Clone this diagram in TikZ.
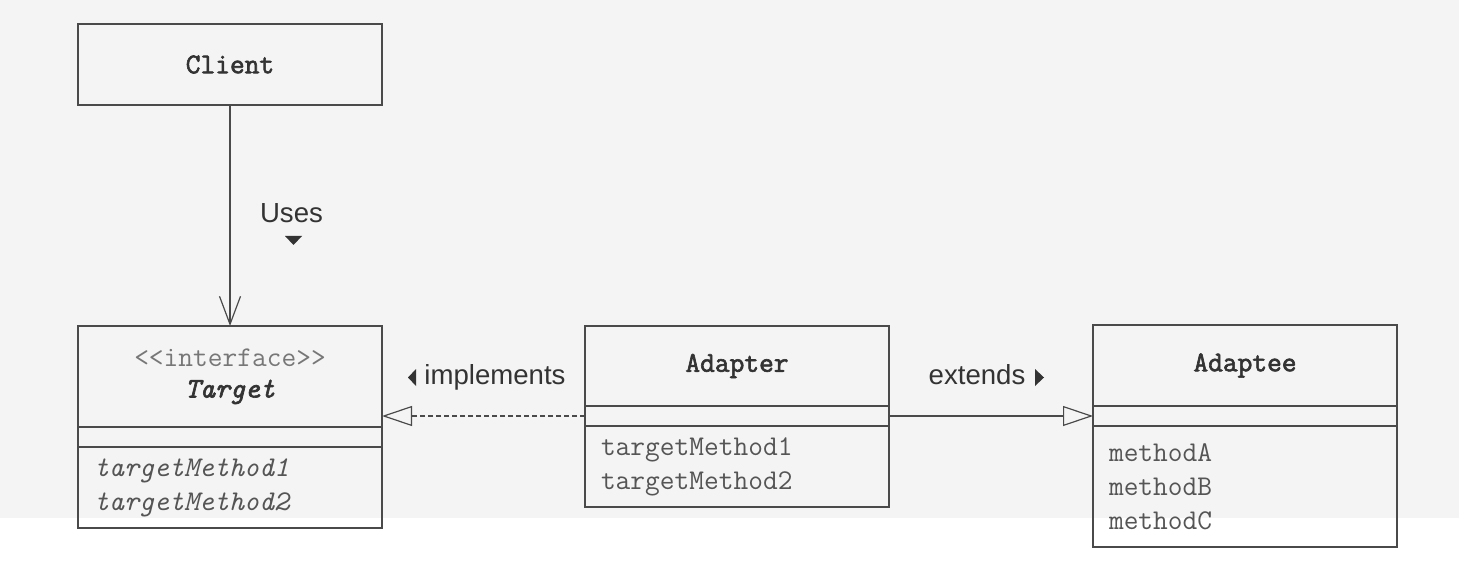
\documentclass[tikz,border=0pt]{standalone}
\usepackage{fontspec}
\setmainfont{Liberation Sans}
\newfontfamily\namefont[FakeBold=2.2]{Latin Modern Mono}
\usetikzlibrary{positioning,arrows.meta}
\definecolor{bggray}{HTML}{F4F4F4}
\definecolor{linegray}{HTML}{4A4A4A}
\definecolor{textgray}{HTML}{555555}
\definecolor{namegray}{HTML}{333333}
\definecolor{stereogray}{HTML}{777777}

\begin{document}
\begin{tikzpicture}[
  x=0.5pt, y=-0.5pt,
  block_head/.style={rectangle, draw=linegray, line width=0.6pt, outer sep=0pt, inner sep=0pt,
    minimum width=152pt, text=namegray, align=center,
    font=\namefont\fontsize{14.3}{15.5}\selectfont},
  block_attr/.style={rectangle, draw=linegray, line width=0.6pt, outer sep=0pt, inner sep=0pt,
    minimum width=152pt, minimum height=10pt},
  block_ops/.style={rectangle, draw=linegray, line width=0.6pt, outer sep=0pt,
    inner xsep=8pt, inner ysep=0pt, minimum width=152pt, text width=136pt,
    text=textgray, align=left, font=\ttfamily\fontsize{14.3}{17}\selectfont},
  label_rel/.style={text=namegray, inner sep=0pt, text height=0.75em, text depth=0.25em,
    font=\fontsize{13.8}{16}\selectfont},
  tri/.style={fill=namegray},
  uses/.style={draw=linegray, line width=0.6pt, -{Straight Barb[length=14pt, width=10.5pt]}},
  realize/.style={draw=linegray, line width=0.6pt, dash pattern=on 2.5pt off 1.5pt,
    -{Triangle[open, length=15pt, width=10pt]}},
  inherit/.style={draw=linegray, line width=0.6pt, -{Triangle[open, length=15pt, width=10pt]}}
  ]

\useasboundingbox (0,0) rectangle (1459,566);
\fill [bggray] (0,0) rectangle (1459,518);

% client
\node [block_head, minimum height=40.5pt, anchor=north west] (client) at (78,24) {Client};

% target interface
\node [block_head, minimum height=50.5pt, anchor=north west] (target) at (78,326)
  {{\ttfamily\color{stereogray}<{}<interface>{}>}\\\textit{Target}};
\node [block_attr, below=0pt of target] (target_attr) {};
\node [block_ops, minimum height=40.5pt, below=0pt of target_attr] (target_ops)
  {\textit{targetMethod1}\\\textit{targetMethod2}};

% adapter
\node [block_head, minimum height=40pt, anchor=north west] (adapter) at (585,326) {Adapter};
\node [block_attr, below=0pt of adapter] (adapter_attr) {};
\node [block_ops, minimum height=40.5pt, below=0pt of adapter_attr] (adapter_ops)
  {targetMethod1\\targetMethod2};

% adaptee
\node [block_head, minimum height=40.5pt, anchor=north west] (adaptee) at (1093,325) {Adaptee};
\node [block_attr, below=0pt of adaptee] (adaptee_attr) {};
\node [block_ops, minimum height=60.5pt, below=0pt of adaptee_attr] (adaptee_ops)
  {methodA\\methodB\\methodC};

\path [uses] (client.south) -- (client.south |- target.north);
\path [realize] (adapter_attr.west) -- (adapter_attr.west -| target.east);
\path [inherit] (adapter_attr) -- (adaptee_attr);

% relation labels
\node [label_rel] (uses_lbl) at (291.5,218) {Uses};
\fill [tri] (285,236) -- (302,236) -- (293.5,245) -- cycle;
\node [label_rel] (impl_lbl) at (495,379) {implements};
\fill [tri] (416,369) -- (416,386) -- (408,377.5) -- cycle;
\node [label_rel] (ext_lbl) at (977,379) {extends};
\fill [tri] (1035,369) -- (1035,386) -- (1044,377.5) -- cycle;

\end{tikzpicture}
\end{document}
